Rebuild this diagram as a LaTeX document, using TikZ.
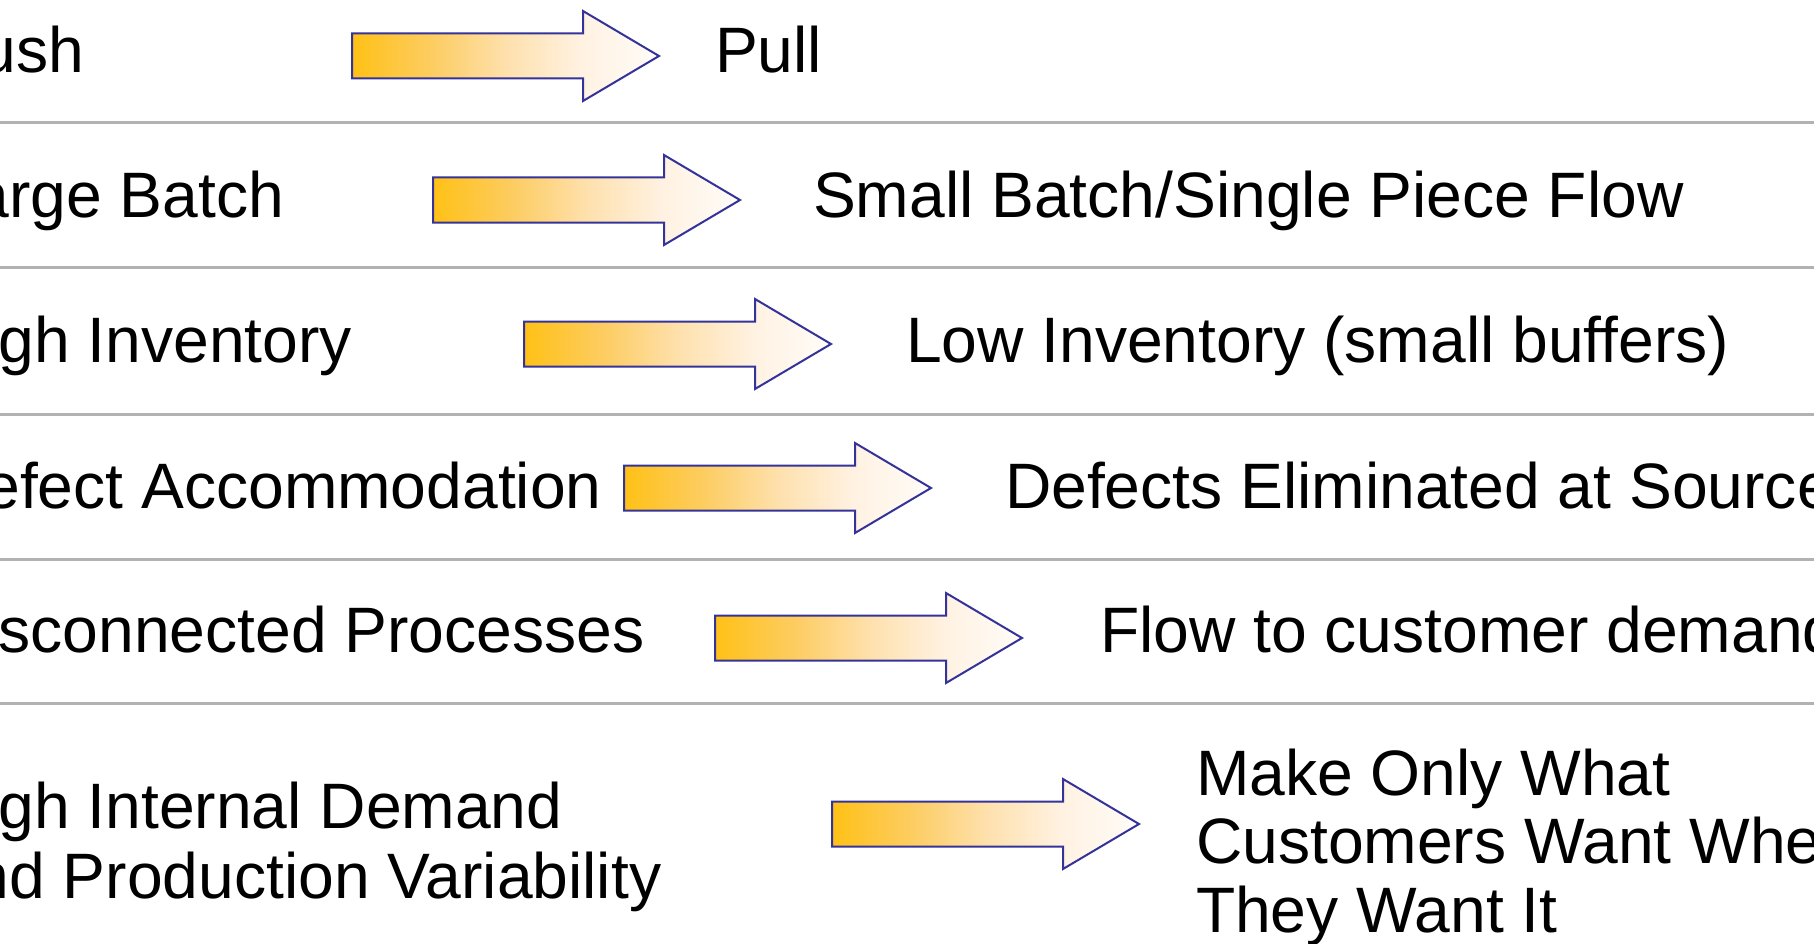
\documentclass[tikz,border=0pt]{standalone}
\usepackage{fontspec}
\setmainfont{Liberation Sans}

\definecolor{amberA}{RGB}{255,193,22}
\definecolor{amberB}{RGB}{253,204,95}
\definecolor{amberC}{RGB}{254,224,172}
\definecolor{amberD}{RGB}{255,242,226}
\definecolor{amberE}{RGB}{255,252,248}
\definecolor{arrowedge}{RGB}{51,51,153}
\definecolor{rulegray}{RGB}{178,178,178}

% amber fading to white along the arrow (the path box spans 25bp..75bp)
\pgfdeclarehorizontalshading{amberfade}{100bp}{%
  color(0bp)=(amberA); color(25bp)=(amberA); color(37.5bp)=(amberB);
  color(50bp)=(amberC); color(62.5bp)=(amberD); color(75bp)=(amberE);
  color(100bp)=(amberE)}

\tikzset{
  lbl/.style={anchor=base west, inner sep=0pt, outer sep=0pt,
    font=\fontsize{64.2}{70}\selectfont},
  blockarrow/.style={draw=arrowedge, line width=2pt, line join=miter,
    shading=amberfade},
  rowrule/.style={draw=rulegray, line width=3pt}
}

% block arrow: #1 name, (#2,#3) left end of the shaft on the centre line
\newcommand\flowarrow[3]{%
  \coordinate (#1) at (#2,#3);
  \path[blockarrow] (#2,#3) ++(0,-22.5) -- ++(231,0) -- ++(0,-22.5)
    -- ++(76,45) -- ++(-76,45) -- ++(0,-22.5) -- ++(-231,0) -- cycle;
}

\begin{document}
\begin{tikzpicture}[x=1pt,y=-1pt]
  \useasboundingbox (0,0) rectangle (1814,944);
  \clip (0,0) rectangle (1814,944);
  \fill[white] (0,0) rectangle (1814,944);

  % separators between rows
  \foreach \yy/\nm in {123/s1,267/s2,414/s3,559/s4,703/s5}{
    \coordinate (\nm a) at (0,\yy);
    \coordinate (\nm b) at (1814,\yy);
    \draw[rowrule] (\nm a) -- (\nm b);
  }

  % arrows
  \flowarrow{a1}{352}{56}
  \flowarrow{a2}{433}{200}
  \flowarrow{a3}{524}{344}
  \flowarrow{a4}{624}{488}
  \flowarrow{a5}{715}{638}
  \flowarrow{a6}{832}{824}

  % current state
  \node[lbl] (l1) at (-62,73) {Push};
  \node[lbl] (l2) at (-62,217) {Large Batch};
  \node[lbl] (l3) at (-62,362) {High Inventory};
  \node[lbl] (l4) at (-62,508) {Defect Accommodation};
  \node[lbl] (l5) at (-62,652) {Disconnected Processes};
  \node[lbl] (l6a) at (-62,828) {High Internal Demand};
  \node[lbl] (l6b) at (-62,898) {and Production Variability};

  % lean state
  \node[lbl] (r1) at (715,73) {Pull};
  \node[lbl] (r2) at (813,217) {Small Batch/Single Piece Flow};
  \node[lbl] (r3) at (906,362) {Low Inventory (small buffers)};
  \node[lbl] (r4) at (1005,508) {Defects Eliminated at Source};
  \node[lbl] (r5) at (1100,652) {Flow to customer demand};
  \node[lbl] (r6a) at (1196,795) {Make Only What};
  \node[lbl] (r6b) at (1196,863) {Customers Want When};
  \node[lbl] (r6c) at (1196,932) {They Want It};
\end{tikzpicture}
\end{document}
